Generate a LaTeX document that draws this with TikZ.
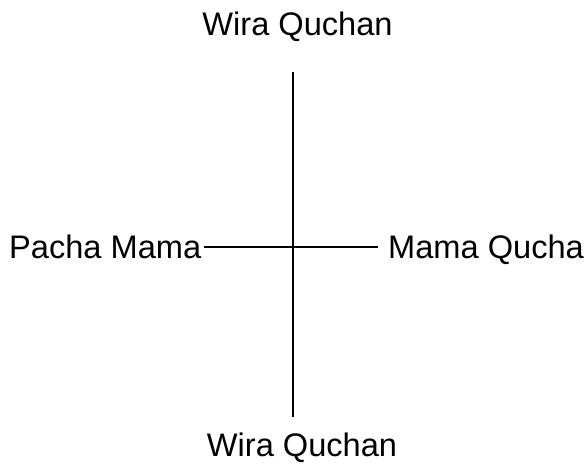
\documentclass[tikz,border=0pt]{standalone}
\usepackage{fontspec}
\setmainfont{Liberation Sans}
\begin{document}
\begin{tikzpicture}[x=1pt,y=1pt,
  lab/.style={inner sep=0pt,font=\fontsize{32.6}{38}\selectfont},
  axis/.style={line width=1.8pt}]
\useasboundingbox (0,0) rectangle (588,464);
\node[lab,anchor=base] (top) at (297.5,428) {Wira Quchan};
\node[lab,anchor=base] (bot) at (302,8) {Wira Quchan};
\node[lab,anchor=base west] (pm) at (9,206) {Pacha Mama};
\node[lab,anchor=base west] (mq) at (388,206) {Mama Qucha};
\coordinate (vt) at (293,392);
\coordinate (vb) at (293,47);
\coordinate (hl) at (204,217);
\coordinate (hr) at (378,217);
\draw[axis] (vt) -- (vb);
\draw[axis] (hl) -- (hr);
\end{tikzpicture}
\end{document}
